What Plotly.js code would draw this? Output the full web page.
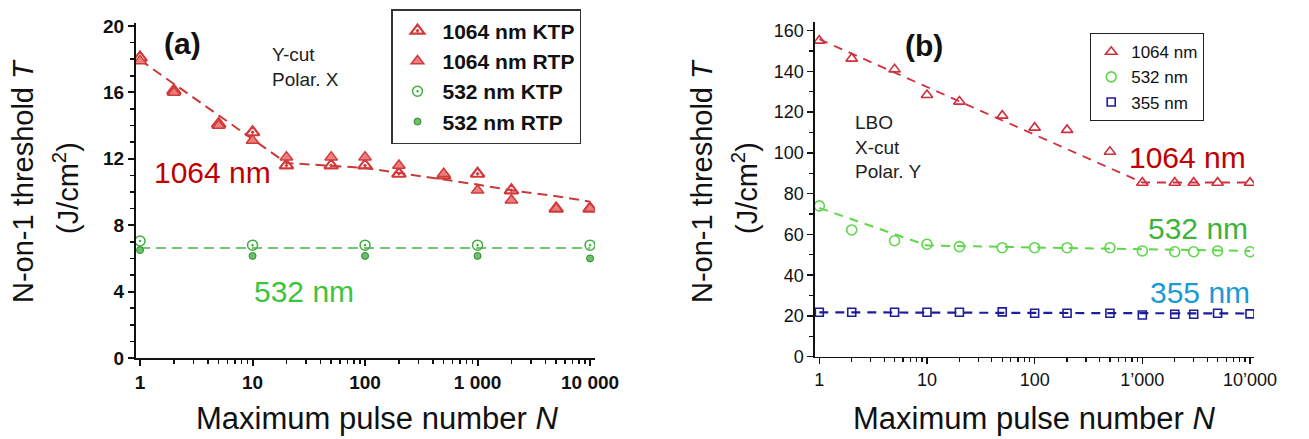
<!DOCTYPE html>
<html>
<head>
<meta charset="utf-8">
<script src="https://cdn.plot.ly/plotly-3.0.1.min.js"></script>
<style>html,body{margin:0;padding:0;background:#fff;}#chart{width:1309px;height:439px;}</style>
</head>
<body>
<div id="chart"></div>
<script>
// ---------- Panel (a): KTP / RTP, Y-cut, Polar. X ----------
const pulsesA1064 = [1, 2, 5, 10, 20, 50, 100, 200, 500, 1000, 2000, 5000, 10000];
const ktp1064 = [18.1, 16.1, 14.1, 13.6, 11.6, 11.6, 11.6, 11.1, 11.0, 11.1, 10.1, 9.0, 9.0];
const rtp1064 = [17.9, 16.0, 14.0, 13.1, 12.1, 12.1, 12.1, 11.6, 11.1, 10.1, 9.5, 9.0, 9.0];
const pulsesA532 = [1, 10, 100, 1000, 10000];
const ktp532 = [7.05, 6.8, 6.8, 6.8, 6.8];
const rtp532 = [6.5, 6.15, 6.15, 6.15, 6.0];
const fitA1064x = [1, 20, 100, 500, 1000, 2000, 5000, 10000];
const fitA1064y = [17.95, 11.75, 11.45, 10.75, 10.45, 10.1, 9.75, 9.42];
const fitA532x = [1, 10000];
const fitA532y = [6.62, 6.62];

// ---------- Panel (b): LBO, X-cut, Polar. Y ----------
const pulsesB = [1, 2, 5, 10, 20, 50, 100, 200, 500, 1000, 2000, 3000, 5000, 10000];
const lbo1064 = [155.1, 146.3, 141.0, 128.4, 125.2, 118.3, 112.4, 111.3, 100.6, 85.4, 85.4, 85.4, 85.4, 85.4];
const lbo532 = [74.0, 62.2, 56.9, 55.2, 54.0, 53.5, 53.5, 53.5, 53.5, 51.9, 51.5, 51.5, 51.9, 51.5];
const lbo355 = [21.8, 21.8, 21.8, 21.8, 21.8, 22.0, 21.3, 21.3, 21.3, 20.5, 20.8, 20.8, 21.3, 21.0];
const fitB1064x = [1, 1000, 10000];
const fitB1064y = [155.8, 85.5, 85.5];
const fitB532x = [1, 10, 100, 1000, 10000];
const fitB532y = [73.0, 54.6, 53.6, 52.6, 51.9];
const fitB355x = [1, 10000];
const fitB355y = [21.8, 21.2];

// ---------- Tick labels ----------
const xTickVals = [1, 10, 100, 1000, 10000];
const xTickTextA = ['1', '10', '100', '1 000', '10 000'];
const xTickTextB = ['1', '10', '100', '1\u2019000', '10\u2019000'];

const W = 1309, H = 439;
const px = x => x / W;
const py = y => 1 - y / H;

const minorLog = [];
for (let d = 1; d <= 1000; d *= 10) for (let k = 2; k <= 9; k++) minorLog.push(k * d);

const RED_A = '#d23a3a', GREEN_A = '#3fae3f';
const RED_B = '#d0303c', GREEN_B = '#5ed84a', BLUE_B = '#1c1c9c';

const traces = [
  {x: fitA1064x, y: fitA1064y, xaxis: 'x', yaxis: 'y', mode: 'lines', showlegend: false, hoverinfo: 'skip',
   line: {color: '#c83a3a', width: 2, dash: '10px,6px'}},
  {x: fitA532x, y: fitA532y, xaxis: 'x', yaxis: 'y', mode: 'lines', showlegend: false, hoverinfo: 'skip',
   line: {color: '#48b048', width: 1.5, dash: '10px,6px'}},
  {x: pulsesA1064, y: ktp1064, xaxis: 'x', yaxis: 'y', mode: 'markers', name: '1064 nm KTP', legend: 'legend',
   marker: {symbol: 'triangle-up-open-dot', size: 12, color: RED_A, line: {width: 2.2, color: RED_A}}},
  {x: pulsesA1064, y: rtp1064, xaxis: 'x', yaxis: 'y', mode: 'markers', name: '1064 nm RTP', legend: 'legend',
   marker: {symbol: 'triangle-up', size: 11, color: '#e88080', line: {width: 1.5, color: RED_A}}},
  {x: pulsesA532, y: ktp532, xaxis: 'x', yaxis: 'y', mode: 'markers', name: '532 nm KTP', legend: 'legend',
   marker: {symbol: 'circle-open-dot', size: 10, color: GREEN_A, line: {width: 1.5, color: GREEN_A}}},
  {x: pulsesA532, y: rtp532, xaxis: 'x', yaxis: 'y', mode: 'markers', name: '532 nm RTP', legend: 'legend',
   marker: {symbol: 'circle', size: 7, color: '#6cc06c', line: {width: 1, color: '#2e8b2e'}}},
  {x: fitB1064x, y: fitB1064y, xaxis: 'x2', yaxis: 'y2', mode: 'lines', showlegend: false, hoverinfo: 'skip',
   line: {color: RED_B, width: 1.8, dash: '9px,7px'}},
  {x: fitB532x, y: fitB532y, xaxis: 'x2', yaxis: 'y2', mode: 'lines', showlegend: false, hoverinfo: 'skip',
   line: {color: GREEN_B, width: 2, dash: '9px,7px'}},
  {x: fitB355x, y: fitB355y, xaxis: 'x2', yaxis: 'y2', mode: 'lines', showlegend: false, hoverinfo: 'skip',
   line: {color: BLUE_B, width: 2.2, dash: '9px,7px'}},
  {x: pulsesB, y: lbo1064, xaxis: 'x2', yaxis: 'y2', mode: 'markers', name: '1064 nm', legend: 'legend2',
   marker: {symbol: 'triangle-up-open', size: 10, color: RED_B, line: {width: 1.6, color: RED_B}}},
  {x: pulsesB, y: lbo532, xaxis: 'x2', yaxis: 'y2', mode: 'markers', name: '532 nm', legend: 'legend2',
   marker: {symbol: 'circle-open', size: 10, color: GREEN_B, line: {width: 1.6, color: GREEN_B}}},
  {x: pulsesB, y: lbo355, xaxis: 'x2', yaxis: 'y2', mode: 'markers', name: '355 nm', legend: 'legend2',
   marker: {symbol: 'square-open', size: 8, color: BLUE_B, line: {width: 1.6, color: BLUE_B}}}
];

const FONT = 'Liberation Sans, Arial, sans-serif';
const axisBase = {
  showgrid: false, zeroline: false, showline: true, linecolor: '#111',
  ticks: 'outside', tickcolor: '#111', ticklen: 6, fixedrange: true
};

function note(text, x, y, size, color, extra) {
  return Object.assign({
    text: text, x: px(x), y: py(y), xref: 'paper', yref: 'paper', showarrow: false,
    xanchor: 'center', yanchor: 'middle',
    font: {size: size, family: FONT, color: color}
  }, extra || {});
}

const layout = {
  width: W, height: H,
  margin: {l: 0, r: 0, t: 0, b: 0},
  paper_bgcolor: '#fff', plot_bgcolor: '#fff',
  font: {family: FONT, color: '#111'},
  xaxis: Object.assign({}, axisBase, {
    type: 'log', domain: [px(136), px(595)], range: [-0.036, 4.044], anchor: 'y',
    tickmode: 'array', tickvals: xTickVals, ticktext: xTickTextA, linewidth: 2, tickwidth: 2,
    tickfont: {size: 19, weight: 'bold', family: FONT},
    minor: {tickmode: 'array', tickvals: minorLog, ticks: 'outside', ticklen: 4, tickwidth: 1.5, tickcolor: '#111', showgrid: false}
  }),
  yaxis: Object.assign({}, axisBase, {
    domain: [py(358), py(22.7)], range: [0, 20.2], anchor: 'x',
    tickmode: 'linear', tick0: 0, dtick: 4, linewidth: 2, tickwidth: 2,
    tickfont: {size: 19, weight: 'bold', family: FONT},
    minor: {dtick: 1, ticks: 'outside', ticklen: 4, tickwidth: 1.5, tickcolor: '#111', showgrid: false}
  }),
  xaxis2: Object.assign({}, axisBase, {
    type: 'log', domain: [px(815), px(1254)], range: [-0.04, 4.037], anchor: 'y2',
    tickmode: 'array', tickvals: xTickVals, ticktext: xTickTextB, linewidth: 1.6, tickwidth: 1.5,
    tickfont: {size: 18, family: FONT},
    minor: {tickmode: 'array', tickvals: minorLog, ticks: 'outside', ticklen: 4, tickwidth: 1.2, tickcolor: '#111', showgrid: false}
  }),
  yaxis2: Object.assign({}, axisBase, {
    domain: [py(356.7), py(21.7)], range: [0, 164.4], anchor: 'x2',
    tickmode: 'linear', tick0: 0, dtick: 20, linewidth: 1.6, tickwidth: 1.5,
    tickfont: {size: 18, family: FONT},
    minor: {dtick: 10, ticks: 'outside', ticklen: 4, tickwidth: 1.2, tickcolor: '#111', showgrid: false}
  }),
  legend: {
    x: px(391), y: py(9), xanchor: 'left', yanchor: 'top',
    bordercolor: '#333', borderwidth: 1.5, bgcolor: '#fff',
    font: {size: 21, weight: 'bold', family: FONT, color: '#111'},
    traceorder: 'normal', itemwidth: 40, entrywidth: 205, entrywidthmode: 'pixels'
  },
  legend2: {
    x: px(1090), y: py(33), xanchor: 'left', yanchor: 'top',
    bordercolor: '#222', borderwidth: 1.2, bgcolor: '#fff',
    font: {size: 17, family: FONT, color: '#111'},
    traceorder: 'normal', itemwidth: 30
  },
  annotations: [
    note('<b>(a)</b>', 183, 43, 30, '#111'),
    note('Y-cut<br>Polar. X', 270, 42, 19, '#222', {xanchor: 'left', yanchor: 'top', align: 'left'}),
    note('1064 nm', 212, 173, 30, '#c00000'),
    note('532 nm', 304, 291, 30, '#3cc43c'),
    note('<b>(b)</b>', 924, 45, 30, '#111'),
    note('LBO<br>X-cut<br>Polar. Y', 853, 110, 19, '#222', {xanchor: 'left', yanchor: 'top', align: 'left'}),
    note('1064 nm', 1248, 157, 30, '#c00000', {xanchor: 'right'}),
    note('532 nm', 1250, 228, 30, '#3cb43c', {xanchor: 'right'}),
    note('355 nm', 1252, 292, 30, '#1a9ad6', {xanchor: 'right'}),
    note('N-on-1 threshold <i>T</i>', 23, 181, 29, '#111', {textangle: -90}),
    note('(J/cm<sup>2</sup>)', 66, 188, 29, '#111', {textangle: -90}),
    note('N-on-1 threshold <i>T</i>', 702, 181, 29, '#111', {textangle: -90}),
    note('(J/cm<sup>2</sup>)', 745, 188, 29, '#111', {textangle: -90}),
    note('Maximum pulse number <i>N</i>', 377, 418, 31, '#111'),
    note('Maximum pulse number <i>N</i>', 1034, 418, 31, '#111')
  ]
};

Plotly.newPlot('chart', traces, layout, {displayModeBar: false, staticPlot: true});
</script>
</body>
</html>
